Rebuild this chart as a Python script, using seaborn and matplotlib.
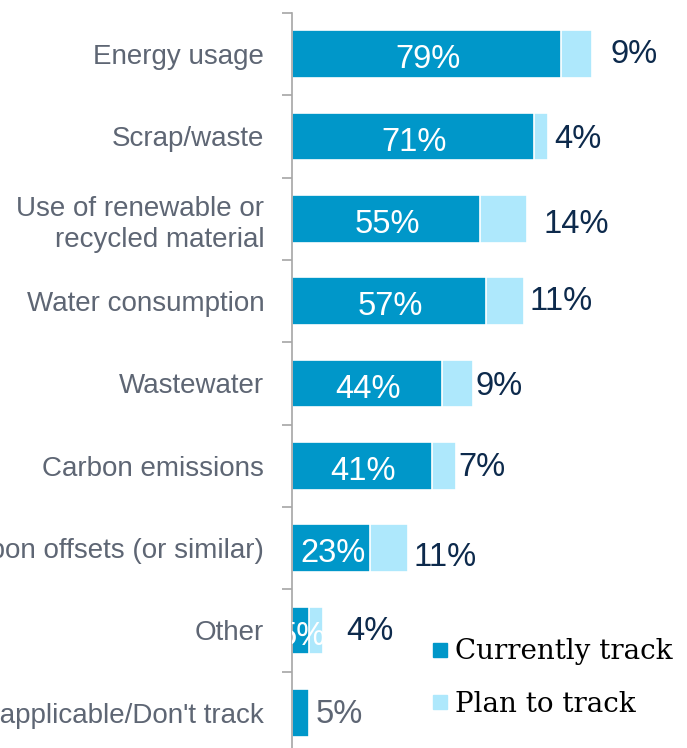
import matplotlib
matplotlib.use("Agg")
import matplotlib.pyplot as plt
from matplotlib.lines import Line2D
import seaborn as sns
import pandas as pd

# Survey: which sustainability metrics companies track
categories = [
    "Energy usage",
    "Scrap/waste",
    "Use of renewable or\nrecycled material",
    "Water consumption",
    "Wastewater",
    "Carbon emissions",
    "Carbon offsets (or similar)",
    "Other",
    "Not applicable/Don't track",
]
currently_track = [79, 71, 55, 57, 44, 41, 23, 5, 5]
plan_to_track = [9, 4, 14, 11, 9, 7, 11, 4, 0]

# label nudges for the "plan to track" values (points: dx from bar end, dy)
plan_label_dx = [13, 5, 12, 4, 2, 2, 4, 17, 5]
plan_label_dy = [0, -2, -4, 0, -2, -1, -7, -1, -1]

DARK = "#0097C9"
LIGHT = "#AEE8FC"
NAVY = "#0D2A4C"
GREY_TXT = "#5E6674"
AXIS_GREY = "#A6A6A6"

df = pd.DataFrame({
    "category": categories,
    "current": currently_track,
    "plan": plan_to_track,
})
df["total"] = df["current"] + df["plan"]

sns.set_theme(style="white")
plt.rcParams["font.family"] = ["Liberation Sans", "DejaVu Sans"]

fig = plt.figure(figsize=(6.87, 7.48), dpi=100)
ax = fig.add_axes([292 / 687, 1 - 754 / 748, 1 - 292 / 687, (754 - 13) / 748])

sns.barplot(data=df, y="category", x="total", color=LIGHT, orient="h",
            width=0.58, edgecolor="white", linewidth=1.2, saturation=1, ax=ax)
sns.barplot(data=df, y="category", x="current", color=DARK, orient="h",
            width=0.58, edgecolor="white", linewidth=1.2, saturation=1, ax=ax)

ax.set_xlim(0, 395 / 3.41)
ax.set_ylim(len(categories) - 0.5, -0.5)
ax.set_xlabel("")
ax.set_ylabel("")
ax.set_xticks([])

for s in ["top", "right", "bottom"]:
    ax.spines[s].set_visible(False)
ax.spines["left"].set_color(AXIS_GREY)
ax.spines["left"].set_linewidth(1.2)

ax.set_yticks([i - 0.5 for i in range(len(categories) + 1)], minor=True)
ax.tick_params(axis="y", which="minor", length=7.5, width=1.2, color=AXIS_GREY,
               direction="out", left=True)
ax.tick_params(axis="y", which="major", length=0, pad=20, labelsize=20,
               labelcolor=GREY_TXT)
for lbl in ax.get_yticklabels():
    lbl.set_linespacing(1.24)

VAL_SIZE = 23.5
for i, (cur, pl) in enumerate(zip(currently_track, plan_to_track)):
    if pl > 0:
        # value inside the dark segment
        ax.annotate(f"{cur}%", xy=(cur / 2, i), xytext=(1, -4),
                    textcoords="offset points", ha="center", va="center",
                    color="white", fontsize=VAL_SIZE, annotation_clip=False,
                    clip_on=True)
        ax.annotate(f"{pl}%", xy=(cur + pl, i),
                    xytext=(plan_label_dx[i], plan_label_dy[i]),
                    textcoords="offset points", ha="left", va="center",
                    color=NAVY, fontsize=VAL_SIZE, annotation_clip=False)
    else:
        ax.annotate(f"{cur}%", xy=(cur, i),
                    xytext=(plan_label_dx[i], plan_label_dy[i]),
                    textcoords="offset points", ha="left", va="center",
                    color=GREY_TXT, fontsize=VAL_SIZE, annotation_clip=False)

handles = [
    Line2D([], [], marker="s", linestyle="none", markersize=10.5,
           markerfacecolor=DARK, markeredgecolor=DARK),
    Line2D([], [], marker="s", linestyle="none", markersize=10.5,
           markerfacecolor=LIGHT, markeredgecolor=LIGHT),
]
leg = fig.legend(handles, ["Currently track", "Plan to track"],
                 loc="center left", bbox_to_anchor=(404 / 687, 1 - 678 / 748),
                 frameon=False, handlelength=0.8, handletextpad=0.15,
                 labelspacing=0.92,
                 prop={"family": ["DejaVu Serif"], "size": 20})
for t in leg.get_texts():
    t.set_color("black")

fig.savefig("out.png", dpi=100)
